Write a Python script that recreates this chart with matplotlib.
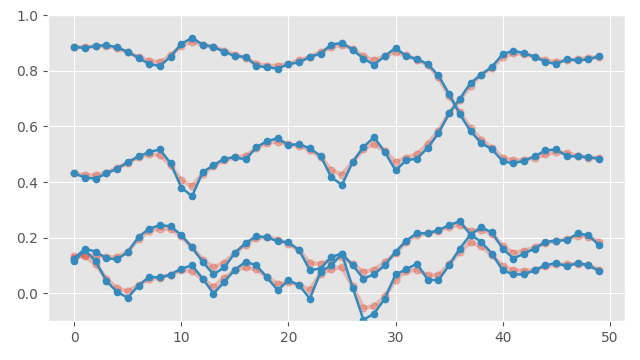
import matplotlib
matplotlib.use("Agg")
import matplotlib.pyplot as plt
import numpy as np

plt.style.use("ggplot")

x = np.arange(50)

a_raw = [0.886, 0.882, 0.889, 0.892, 0.884, 0.868, 0.846, 0.824, 0.817, 0.851,
         0.897, 0.918, 0.894, 0.886, 0.868, 0.853, 0.850, 0.818, 0.812, 0.808,
         0.824, 0.830, 0.850, 0.862, 0.894, 0.900, 0.876, 0.843, 0.822, 0.853,
         0.882, 0.853, 0.842, 0.824, 0.783, 0.716, 0.644, 0.583, 0.540, 0.518,
         0.475, 0.467, 0.477, 0.492, 0.514, 0.517, 0.493, 0.492, 0.489, 0.484]
a_smooth = [0.886, 0.885, 0.888, 0.889, 0.882, 0.866, 0.850, 0.836, 0.831, 0.855,
            0.890, 0.905, 0.893, 0.886, 0.872, 0.858, 0.846, 0.825, 0.818, 0.818,
            0.825, 0.837, 0.850, 0.866, 0.886, 0.892, 0.879, 0.852, 0.838, 0.852,
            0.868, 0.855, 0.840, 0.822, 0.776, 0.711, 0.651, 0.593, 0.552, 0.523,
            0.487, 0.478, 0.480, 0.487, 0.499, 0.509, 0.503, 0.495, 0.488, 0.487]

b_raw = [0.431, 0.416, 0.412, 0.431, 0.448, 0.471, 0.492, 0.508, 0.517, 0.467,
         0.380, 0.349, 0.436, 0.460, 0.484, 0.489, 0.481, 0.525, 0.547, 0.557,
         0.533, 0.536, 0.521, 0.494, 0.417, 0.390, 0.472, 0.526, 0.561, 0.508,
         0.442, 0.478, 0.484, 0.523, 0.575, 0.647, 0.699, 0.756, 0.786, 0.814,
         0.860, 0.872, 0.863, 0.850, 0.832, 0.824, 0.842, 0.837, 0.841, 0.852]
b_smooth = [0.431, 0.424, 0.424, 0.434, 0.450, 0.469, 0.490, 0.500, 0.497, 0.460,
            0.406, 0.385, 0.430, 0.457, 0.478, 0.489, 0.494, 0.521, 0.541, 0.545,
            0.535, 0.530, 0.515, 0.490, 0.442, 0.427, 0.472, 0.518, 0.537, 0.511,
            0.472, 0.487, 0.500, 0.537, 0.583, 0.647, 0.695, 0.747, 0.786, 0.810,
            0.850, 0.863, 0.860, 0.851, 0.837, 0.832, 0.837, 0.842, 0.845, 0.850]

c_raw = [0.125, 0.160, 0.150, 0.126, 0.122, 0.148, 0.203, 0.232, 0.245, 0.241,
         0.209, 0.165, 0.113, 0.068, 0.093, 0.145, 0.181, 0.205, 0.201, 0.187,
         0.183, 0.155, 0.083, 0.089, 0.131, 0.143, 0.101, 0.053, 0.068, 0.101,
         0.149, 0.189, 0.217, 0.215, 0.227, 0.245, 0.259, 0.211, 0.237, 0.219,
         0.161, 0.125, 0.143, 0.161, 0.185, 0.189, 0.191, 0.215, 0.209, 0.173]
c_smooth = [0.133, 0.138, 0.135, 0.130, 0.130, 0.150, 0.195, 0.225, 0.232, 0.232,
            0.205, 0.165, 0.120, 0.093, 0.110, 0.144, 0.175, 0.199, 0.202, 0.193,
            0.178, 0.155, 0.108, 0.106, 0.120, 0.130, 0.104, 0.077, 0.085, 0.111,
            0.144, 0.186, 0.210, 0.215, 0.224, 0.238, 0.247, 0.223, 0.229, 0.213,
            0.170, 0.146, 0.153, 0.165, 0.181, 0.189, 0.194, 0.206, 0.203, 0.185]

d_raw = [0.116, 0.155, 0.116, 0.044, 0.005, -0.016, 0.028, 0.059, 0.057, 0.067,
         0.089, 0.100, 0.053, -0.001, 0.041, 0.085, 0.113, 0.101, 0.057, 0.011,
         0.047, 0.029, -0.019, 0.077, 0.101, 0.141, 0.020, -0.095, -0.073, -0.019,
         0.068, 0.086, 0.107, 0.049, 0.047, 0.101, 0.161, 0.211, 0.185, 0.143,
         0.083, 0.068, 0.068, 0.083, 0.101, 0.109, 0.097, 0.109, 0.101, 0.080]
d_smooth = [0.128, 0.133, 0.104, 0.053, 0.018, 0.007, 0.029, 0.052, 0.056, 0.067,
            0.083, 0.080, 0.050, 0.023, 0.055, 0.083, 0.093, 0.087, 0.058, 0.033,
            0.040, 0.030, 0.013, 0.070, 0.087, 0.094, 0.025, -0.052, -0.047, -0.011,
            0.049, 0.079, 0.085, 0.065, 0.065, 0.104, 0.150, 0.183, 0.169, 0.137,
            0.098, 0.083, 0.080, 0.085, 0.097, 0.104, 0.104, 0.106, 0.101, 0.085]

raws = [a_raw, b_raw, c_raw, d_raw]
smooths = [a_smooth, b_smooth, c_smooth, d_smooth]

fig, ax = plt.subplots(figsize=(6.4, 3.6), dpi=100)
for s in smooths:
    ax.plot(x, s, "o-", color="#E24A33", alpha=0.3, lw=3, ms=5)
for r in raws:
    ax.plot(x, r, "o-", color="#348ABD", lw=1.8, ms=4.5)

ax.set_ylim(-0.1, 1.0)
ax.set_yticks(np.arange(0, 1.01, 0.2))
fig.subplots_adjust(left=0.075, right=0.977, top=0.958, bottom=0.108)
fig.savefig("out.png")
